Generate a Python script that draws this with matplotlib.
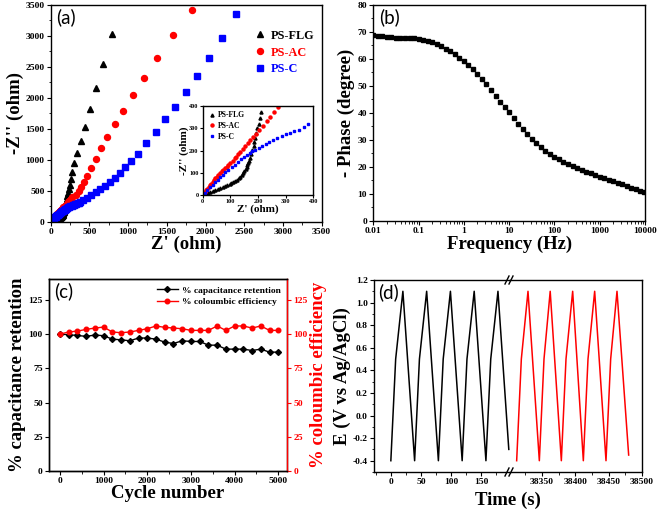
import matplotlib
matplotlib.use("Agg")
import matplotlib.pyplot as plt
from matplotlib.ticker import MultipleLocator, NullFormatter
from matplotlib.lines import Line2D

SERIF = "Liberation Serif"
PANEL = "Lato"

# (a) Nyquist data: Z' and -Z'' in ohm
flg_re = [2, 6, 12, 20, 27, 36, 45, 54, 63, 72, 81, 89, 97, 104, 111, 118, 124, 130,
          136, 141, 145, 150, 155, 159, 162, 165, 168, 172, 176, 180, 184, 187, 190,
          194, 198, 202, 206, 210, 216, 224, 234, 245, 260, 280, 306, 344, 387, 439,
          508, 585, 680, 796]
flg_im = [0, 3, 6, 11, 15, 20, 24, 28, 33, 37, 41, 45, 48, 52, 57, 62, 68, 75,
          83, 90, 98, 106, 115, 125, 136, 145, 155, 168, 185, 204, 222, 240, 258,
          279, 300, 321, 346, 372, 415, 465, 530, 600, 690, 797, 942, 1109, 1298, 1535,
          1820, 2154, 2542, 3026]
ac_re = [1, 5, 9, 13, 17, 21, 26, 31, 36, 41, 46, 51, 57, 63, 69, 75, 81, 87, 93,
         100, 108, 116, 121, 128, 136, 145, 154, 163, 172, 182, 193, 205, 219, 232,
         245, 259, 273, 323, 362, 396, 430, 474, 518, 590, 654, 732, 826, 930, 1059,
         1205, 1378, 1580, 1821]
ac_im = [3, 8, 15, 22, 29, 36, 43, 51, 59, 67, 75, 83, 92, 100, 107, 114, 121, 128, 136,
         145, 155, 166, 173, 184, 195, 207, 219, 232, 245, 260, 276, 293, 312, 331,
         352, 374, 397, 431, 495, 565, 635, 738, 862, 1007, 1185, 1370, 1572, 1793, 2041,
         2326, 2649, 3010, 3420]
c_re = [1, 8, 17, 27, 36, 45, 54, 63, 72, 82, 93, 105, 116, 128, 139, 150, 160, 170,
        180, 190, 202, 215, 228, 241, 255, 270, 286, 301, 316, 332, 349, 365, 381, 418,
        469, 525, 581, 641, 697, 762, 826, 891, 956, 1042, 1128, 1235, 1360, 1481, 1606,
        1743, 1890, 2040, 2208, 2389]
c_im = [1, 10, 22, 35, 46, 57, 68, 80, 92, 103, 114, 125, 137, 149, 160, 171, 180, 189,
        197, 204, 211, 221, 231, 239, 246, 255, 264, 272, 279, 287, 294, 305, 317, 350,
        388, 425, 474, 522, 582, 646, 700, 790, 880, 985, 1090, 1265, 1449, 1653, 1858,
        2089, 2348, 2639, 2973, 3355]

# (b) Bode phase
freq = [0.01, 0.0126, 0.0158, 0.02, 0.0251, 0.0316, 0.0398, 0.0501, 0.0631, 0.0794,
        0.1, 0.126, 0.158, 0.2, 0.251, 0.316, 0.398, 0.501, 0.631, 0.794,
        1, 1.26, 1.58, 2, 2.51, 3.16, 3.98, 5.01, 6.31, 7.94,
        10, 12.6, 15.8, 20, 25.1, 31.6, 39.8, 50.1, 63.1, 79.4,
        100, 126, 158, 200, 251, 316, 398, 501, 631, 794,
        1000, 1260, 1580, 2000, 2510, 3160, 3980, 5010, 6310, 7940, 9300]
phase = [68.8, 68.6, 68.4, 68.2, 68.0, 67.9, 67.8, 67.8, 67.7, 67.6,
         67.4, 67.1, 66.7, 66.2, 65.5, 64.7, 63.8, 62.8, 61.7, 60.5,
         59.2, 57.8, 56.2, 54.5, 52.6, 50.6, 48.5, 46.4, 44.2, 42.1,
         40.3, 38.0, 35.9, 34.0, 32.2, 30.5, 28.9, 27.5, 26.1, 24.9,
         23.8, 22.8, 21.9, 21.0, 20.2, 19.5, 18.8, 18.2, 17.6, 17.0,
         16.4, 15.9, 15.3, 14.8, 14.2, 13.6, 13.0, 12.4, 11.8, 11.2, 10.9]

# (c) cycling
cycles = [0, 200, 400, 600, 800, 1000, 1200, 1400, 1600, 1800, 2000, 2200, 2400,
          2600, 2800, 3000, 3200, 3400, 3600, 3800, 4000, 4200, 4400, 4600, 4800, 5000]
retention = [100, 99.5, 99, 98.3, 99.3, 98.8, 96.3, 95.8, 95.1, 97.1, 97.1, 96.3, 94.1,
             93.1, 95.1, 94.6, 94.6, 91.9, 91.9, 89, 89, 89, 88, 89, 86.8, 86.8]
efficiency = [100, 101.5, 102.2, 103.4, 104.4, 105.1, 101.5, 101, 101.5, 102.7, 103.9,
              105.9, 104.9, 104.4, 103.9, 102.7, 102.7, 102.7, 105.9, 102.7, 105.9,
              105.9, 104.4, 105.9, 102.7, 102.7]

# (d) charge-discharge, first and last cycles
t_first = [0, 8, 20, 39.5, 47.5, 59.5, 79, 87, 99, 118.5, 126.5, 138.5, 158, 166, 178, 196]
e_first = [-0.4, 0.5, 1.1, -0.4, 0.5, 1.1, -0.4, 0.5, 1.1, -0.4, 0.5, 1.1, -0.4, 0.5, 1.1, -0.3]
t_last = [38312, 38319, 38329, 38346, 38353, 38362.3, 38379, 38386, 38396, 38412, 38419,
          38429, 38446, 38453, 38462.5, 38480]
e_last = [-0.4, 0.5, 1.1, -0.4, 0.5, 1.1, -0.4, 0.5, 1.1, -0.4, 0.5, 1.1, -0.4, 0.5, 1.1, -0.35]

plt.rcParams["font.family"] = SERIF
plt.rcParams["font.weight"] = "bold"
plt.rcParams["axes.linewidth"] = 1.0
plt.rcParams["xtick.direction"] = "out"
plt.rcParams["ytick.direction"] = "out"
plt.rcParams["xtick.major.size"] = 3
plt.rcParams["ytick.major.size"] = 3
plt.rcParams["xtick.minor.size"] = 1.8
plt.rcParams["ytick.minor.size"] = 1.8

W, H = 660, 511
fig = plt.figure(figsize=(6.6, 5.11), dpi=100)


def box(l, t, r, b):
    return [l / W, 1 - b / H, (r - l) / W, (b - t) / H]


TICK = 6.8
LAB = 13.5
PLAB = 13.5

# ---------- (a)
ax = fig.add_axes(box(50.7, 5, 321.7, 221.7))
ax.plot(flg_re, flg_im, "^", color="black", ms=4.5, label="PS-FLG")
ax.plot(ac_re, ac_im, "o", color="red", ms=4.3, label="PS-AC")
ax.plot(c_re, c_im, "s", color="blue", ms=3.8, label="PS-C")
ax.set_xlim(0, 3500); ax.set_ylim(0, 3500)
ax.xaxis.set_major_locator(MultipleLocator(500)); ax.yaxis.set_major_locator(MultipleLocator(500))
ax.xaxis.set_minor_locator(MultipleLocator(250)); ax.yaxis.set_minor_locator(MultipleLocator(250))
ax.tick_params(labelsize=TICK, pad=1.5)
ax.set_xlabel("Z' (ohm)", fontsize=LAB, fontweight="bold", labelpad=0)
ax.set_ylabel("-Z'' (ohm)", fontsize=LAB, fontweight="bold", labelpad=1)
ax.text(0.02, 0.985, "(a)", transform=ax.transAxes, family=PANEL, fontweight="normal",
        fontsize=PLAB, va="top", ha="left")
ax.legend(loc="upper right", bbox_to_anchor=(1.0, 0.92), frameon=False, fontsize=8.8,
          labelcolor=["black", "red", "blue"], handletextpad=0.3, labelspacing=0.4,
          handlelength=1.2, borderaxespad=0.2)

ins = fig.add_axes(box(202.7, 106, 313.3, 195))
ins.plot(flg_re, flg_im, "^", color="black", ms=2.2, label="PS-FLG")
ins.plot(ac_re, ac_im, "o", color="red", ms=2.2, label="PS-AC")
ins.plot(c_re, c_im, "s", color="blue", ms=2.0, label="PS-C")
ins.set_xlim(0, 400); ins.set_ylim(0, 400)
ins.xaxis.set_major_locator(MultipleLocator(100)); ins.yaxis.set_major_locator(MultipleLocator(100))
ins.tick_params(labelsize=4.5, pad=1, length=2)
ins.set_xlabel("Z' (ohm)", fontsize=8, fontweight="bold", labelpad=0)
ins.set_ylabel("-Z'' (ohm)", fontsize=8, fontweight="bold", labelpad=0)
ins.legend(loc="upper left", frameon=False, fontsize=5.5, handletextpad=0.3,
           labelspacing=0.35, handlelength=1.0, borderaxespad=0.3)

# ---------- (b)
bx = fig.add_axes(box(373.3, 5, 645, 221))
bx.semilogx(freq, phase, "s", color="black", ms=3.2)
bx.set_xlim(0.01, 10000); bx.set_ylim(0, 80)
bx.set_xticks([0.01, 0.1, 1, 10, 100, 1000, 10000])
bx.set_xticklabels(["0.01", "0.1", "1", "10", "100", "1000", "10000"])
bx.xaxis.set_minor_formatter(NullFormatter())
bx.yaxis.set_major_locator(MultipleLocator(10)); bx.yaxis.set_minor_locator(MultipleLocator(5))
bx.tick_params(labelsize=TICK, pad=1.5)
bx.set_xlabel("Frequency (Hz)", fontsize=LAB, fontweight="bold", labelpad=0)
bx.set_ylabel("- Phase (degree)", fontsize=LAB, fontweight="bold", labelpad=2)
bx.text(0.02, 0.985, "(b)", transform=bx.transAxes, family=PANEL, fontweight="normal",
        fontsize=PLAB, va="top", ha="left")

# ---------- (c)
cx = fig.add_axes(box(49, 279.3, 287, 471))
cx.plot(cycles, retention, "-D", color="black", ms=3, lw=1, label="% capacitance retention")
cx.set_xlim(-250, 5200); cx.set_ylim(0, 140)
cx.xaxis.set_major_locator(MultipleLocator(1000)); cx.xaxis.set_minor_locator(MultipleLocator(500))
cx.yaxis.set_major_locator(MultipleLocator(25))
cx.tick_params(labelsize=TICK, pad=1.5)
cx.set_xlabel("Cycle number", fontsize=LAB, fontweight="bold", labelpad=0)
cx.set_ylabel("% capacitance retention", fontsize=LAB, fontweight="bold", labelpad=2)
cx.text(0.02, 0.985, "(c)", transform=cx.transAxes, family=PANEL, fontweight="normal",
        fontsize=PLAB, va="top", ha="left")
cr = cx.twinx()
cr.plot(cycles, efficiency, "-o", color="red", ms=3.3, lw=1, label="% coloumbic efficiency")
cr.set_ylim(0, 140)
cr.yaxis.set_major_locator(MultipleLocator(25))
cr.tick_params(axis="y", colors="red", labelsize=TICK, pad=1.5)
cr.spines["right"].set_color("red")
cr.set_ylabel("% coloumbic efficiency", color="red", fontsize=LAB, fontweight="bold", labelpad=2)
handles = [Line2D([], [], color="black", marker="D", ms=3, lw=1),
           Line2D([], [], color="red", marker="o", ms=3.3, lw=1)]
cx.legend(handles, ["% capacitance retention", "% coloumbic efficiency"], loc="upper right",
          frameon=False, fontsize=6.8, handlelength=2.2, handletextpad=0.4,
          labelspacing=0.35, borderaxespad=0.3)

# ---------- (d)
d1 = fig.add_axes(box(374, 280, 510, 472))
d2 = fig.add_axes(box(510, 280, 642, 472))
d1.plot(t_first, e_first, color="black", lw=1.1)
d2.plot(t_last, e_last, color="red", lw=1.1)
for a in (d1, d2):
    a.set_ylim(-0.5, 1.2)
d1.set_xlim(-28, 198); d2.set_xlim(38302, 38500)
d1.xaxis.set_minor_locator(MultipleLocator(25))
d2.xaxis.set_minor_locator(MultipleLocator(25))
d2.set_xticks([38350, 38400, 38450, 38500])
d1.set_xticks([0, 50, 100, 150])
d1.yaxis.set_minor_locator(MultipleLocator(0.1))
d1.set_yticks([-0.4, -0.2, 0.0, 0.2, 0.4, 0.6, 0.8, 1.0, 1.2])
d1.set_yticklabels(["-0.4", "-0.2", "0.0", "0.2", "0.4", "0.6", "0.8", "1.0", "1.2"])
d1.spines["right"].set_visible(False)
d2.spines["left"].set_visible(False)
d2.tick_params(axis="y", left=False, labelleft=False)
for a in (d1, d2):
    a.tick_params(labelsize=TICK, pad=1.5)
d1.set_ylabel("E (V vs Ag/AgCl)", fontsize=LAB, fontweight="bold", labelpad=1)
fig.text((374 + 642) / 2 / W, 1 - 500 / H, "Time (s)", fontsize=LAB, fontweight="bold",
         ha="center", va="center")
d1.text(0.03, 0.985, "(d)", transform=d1.transAxes, family=PANEL, fontweight="normal",
        fontsize=PLAB, va="top", ha="left")
# break marks
for yb in (280, 472):
    for dx in (-3, 1):
        x0 = (510 + dx) / W
        fig.add_artist(Line2D([x0 - 2 / W, x0 + 2 / W], [1 - (yb + 4) / H, 1 - (yb - 4) / H],
                              color="black", lw=1.0))

fig.savefig("out.png", dpi=100)
